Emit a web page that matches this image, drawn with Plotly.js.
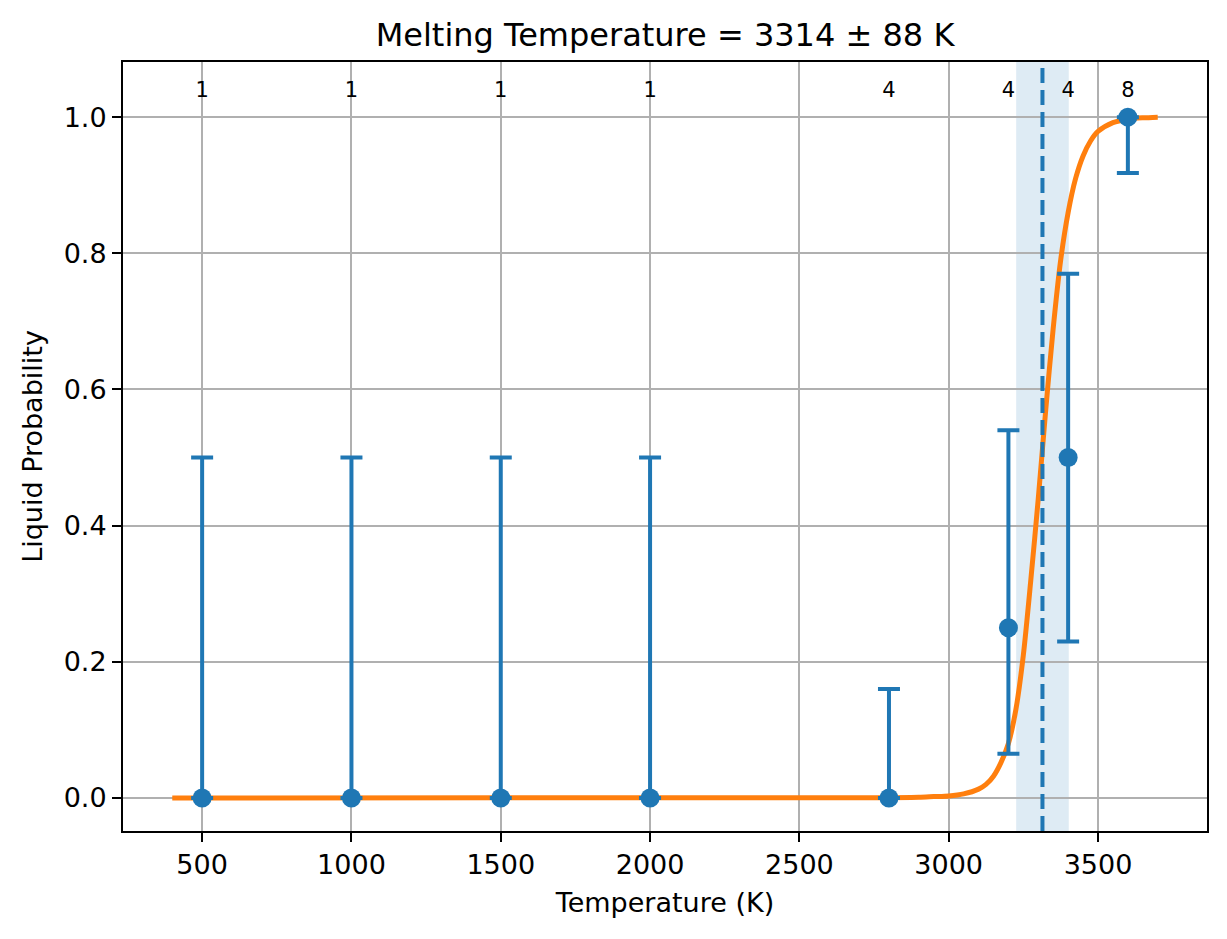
<!DOCTYPE html>
<html>
<head>
<meta charset="utf-8">
<script src="https://cdn.plot.ly/plotly-3.0.1.min.js"></script>
<style>
  body { margin: 0; background: #fff; }
  #melt { width: 1227px; height: 939px; }
</style>
</head>
<body>
<div id="melt"></div>
<script>
// sampled points
var temps = [500, 1000, 1500, 2000, 2800, 3200, 3400, 3600];
var liquidProb = [0, 0, 0, 0, 0, 0.25, 0.5, 1.0];
var probHigh = [0.5, 0.5, 0.5, 0.5, 0.16, 0.54, 0.77, 1.0];
var probLow = [0, 0, 0, 0, 0, 0.065, 0.23, 0.918];
var counts = [1, 1, 1, 1, 4, 4, 4, 8];

// fitted curve
var fitT = [400, 2800, 2900, 2950, 3000, 3050, 3100, 3125, 3150, 3175, 3200, 3225, 3250, 3275, 3300, 3325, 3350, 3375, 3400, 3425, 3450, 3475, 3500, 3550, 3600, 3650, 3700];
var fitP = [0, 0.0005, 0.001, 0.002, 0.003, 0.006, 0.013, 0.02, 0.032, 0.052, 0.08, 0.13, 0.21, 0.32, 0.44, 0.57, 0.69, 0.79, 0.86, 0.91, 0.943, 0.965, 0.979, 0.992, 0.997, 0.999, 1.0];

var meltT = 3314;
var meltErr = 88;

var blue = '#1f77b4';
var orange = '#ff7f0e';

var curve = {
    x: fitT,
    y: fitP,
    mode: 'lines',
    line: { color: orange, width: 5, shape: 'spline', smoothing: 0.8 },
    hoverinfo: 'skip'
};

var points = {
    x: temps,
    y: liquidProb,
    mode: 'markers',
    marker: { color: blue, size: 19 },
    error_y: {
        type: 'data',
        symmetric: false,
        array: probHigh.map(function (h, i) { return h - liquidProb[i]; }),
        arrayminus: probLow.map(function (l, i) { return liquidProb[i] - l; }),
        color: blue,
        thickness: 4,
        width: 11
    }
};

var labels = {
    x: temps,
    y: temps.map(function () { return 1.037; }),
    mode: 'text',
    text: counts.map(String),
    textposition: 'middle center',
    textfont: { size: 21, color: '#000' },
    hoverinfo: 'skip'
};

var data = [curve, points, labels];

var axisStyle = {
    showgrid: true,
    gridcolor: '#b0b0b0',
    gridwidth: 2,
    zeroline: false,
    showline: true,
    linecolor: '#000',
    linewidth: 2,
    mirror: true,
    ticks: 'outside',
    ticklen: 9,
    tickwidth: 2,
    tickcolor: '#000',
    tickfont: { size: 27, color: '#000' }
};

var layout = {
    width: 1227,
    height: 939,
    font: { family: '"DejaVu Sans", sans-serif', color: '#000' },
    paper_bgcolor: '#fff',
    plot_bgcolor: '#fff',
    showlegend: false,
    margin: { l: 123, r: 20, t: 62, b: 108 },
    title: {
        text: 'Melting Temperature = ' + meltT + ' ± ' + meltErr + ' K',
        font: { size: 32 },
        x: 0.5,
        xanchor: 'center',
        xref: 'paper',
        y: 0.963,
        yanchor: 'middle'
    },
    xaxis: Object.assign({}, axisStyle, {
        range: [235, 3865],
        tickvals: [500, 1000, 1500, 2000, 2500, 3000, 3500],
        title: { text: 'Temperature (K)', font: { size: 27 }, standoff: 14 }
    }),
    yaxis: Object.assign({}, axisStyle, {
        range: [-0.0485, 1.081],
        tickvals: [0, 0.2, 0.4, 0.6, 0.8, 1.0],
        tickformat: '.1f',
        title: { text: 'Liquid Probability', font: { size: 27 }, standoff: 13 }
    }),
    shapes: [
        {
            type: 'rect', xref: 'x', yref: 'paper',
            x0: meltT - meltErr, x1: meltT + meltErr, y0: 0, y1: 1,
            fillcolor: 'rgba(31,119,180,0.15)', line: { width: 0 }, layer: 'below'
        },
        {
            type: 'line', xref: 'x', yref: 'paper',
            x0: meltT, x1: meltT, y0: 0, y1: 1,
            line: { color: blue, width: 4, dash: '15px,7px' }, layer: 'above'
        }
    ]
};

Plotly.newPlot('melt', data, layout, { displayModeBar: false, responsive: false });
</script>
</body>
</html>
